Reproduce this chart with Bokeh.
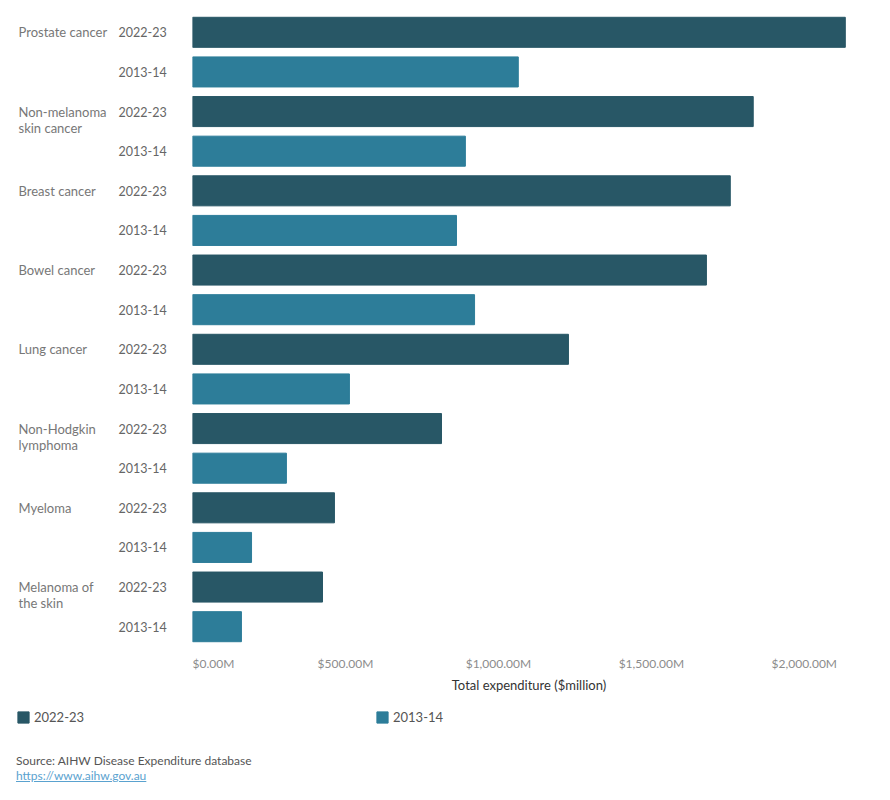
from bokeh.plotting import figure
from bokeh.models import Range1d, FactorRange, FixedTicker, Legend, LegendItem, Div, ColumnDataSource
from bokeh.layouts import column, row
from bokeh.embed import file_html
from bokeh.resources import INLINE
from bokeh.core.properties import value

# ---------------- data ----------------
categories = ["Prostate cancer", "Non-melanoma skin cancer", "Breast cancer", "Bowel cancer",
              "Lung cancer", "Non-Hodgkin lymphoma", "Myeloma", "Melanoma of the skin"]
category_labels = ["Prostate cancer", "Non-melanoma\nskin cancer", "Breast cancer", "Bowel cancer",
                   "Lung cancer", "Non-Hodgkin\nlymphoma", "Myeloma", "Melanoma of\nthe skin"]
periods = ["2022-23", "2013-14"]
exp_2022_23 = [2134, 1833, 1758, 1680, 1229, 814, 464, 425]
exp_2013_14 = [1065, 892, 863, 922, 513, 307, 193, 160]
tick_values = [0, 500, 1000, 1500, 2000]
tick_labels = ["$0.00M", "$500.00M", "$1,000.00M", "$1,500.00M", "$2,000.00M"]

# ---------------- styles ----------------
FONT = "Lato"
DARK = "#285766"
TEAL = "#2d7d99"
period_colors = {"2022-23": DARK, "2013-14": TEAL}

factors, vals, cols, per_labels = [], [], [], []
for c, v1, v2 in zip(categories, exp_2022_23, exp_2013_14):
    for per, v in zip(periods, (v1, v2)):
        factors.append(c + " | " + per)
        vals.append(v)
        cols.append(period_colors[per])
        per_labels.append(per)

src = ColumnDataSource(dict(y=factors, value=vals, color=cols, period=per_labels))
yr = FactorRange(factors=list(reversed(factors)))

FRAME_H = 634
TOP = 12
BOTTOM = 54

# ---------------- bars ----------------
p = figure(frame_width=673, frame_height=FRAME_H, x_range=Range1d(0, 2200), y_range=yr,
           y_axis_location=None, output_backend="svg", toolbar_location=None,
           min_border_left=0, min_border_right=25, min_border_top=TOP, min_border_bottom=BOTTOM)
p.hbar(y="y", left=0, right="value", height=0.758, color="color", source=src)
p.xaxis.ticker = FixedTicker(ticks=tick_values)
p.xaxis.major_label_overrides = dict(zip(tick_values, tick_labels))
p.xaxis.axis_line_color = None
p.xaxis.major_tick_line_color = None
p.xaxis.minor_tick_line_color = None
p.xaxis.major_tick_out = 0
p.xaxis.major_tick_in = 0
p.xaxis.minor_tick_out = 0
p.xaxis.minor_tick_in = 0
p.xaxis.major_label_text_font = FONT
p.xaxis.major_label_text_font_size = "12px"
p.xaxis.major_label_text_color = "#8c8c8c"
p.xaxis.major_label_standoff = 9
p.xaxis.axis_label = "Total expenditure ($million)"
p.xaxis.axis_label_text_font = FONT
p.xaxis.axis_label_text_font_size = "13px"
p.xaxis.axis_label_text_font_style = "normal"
p.xaxis.axis_label_text_color = "#333333"
p.xaxis.axis_label_standoff = 3
p.xgrid.visible = False
p.ygrid.visible = False
p.outline_line_color = None

# ---------------- row labels ----------------
lp = figure(frame_width=192, frame_height=FRAME_H, x_range=Range1d(0, 192), y_range=yr,
            x_axis_location=None, y_axis_location=None, output_backend="svg", toolbar_location=None,
            min_border_left=0, min_border_right=0, min_border_top=TOP, min_border_bottom=BOTTOM)
lp.xgrid.visible = False
lp.ygrid.visible = False
lp.outline_line_color = None
lp.text(x=118, y="y", text="period", source=src, text_font=value(FONT), text_font_size="12.5px",
        text_color="#666666", text_align="left", text_baseline="middle")
lp.text(x=18, y=[c + " | " + periods[0] for c in categories], text=category_labels,
        text_font=value(FONT), text_font_size="13px", text_color="#777777",
        text_align="left", text_baseline="top", y_offset=-8, text_line_height=1.0)

# ---------------- legend ----------------
lg = figure(width=890, height=45, x_range=Range1d(0, 890), y_range=Range1d(0, 45),
            x_axis_location=None, y_axis_location=None, output_backend="svg", toolbar_location=None,
            min_border=0)
lg.xgrid.visible = False
lg.ygrid.visible = False
lg.outline_line_color = None
r1 = lg.hbar(y=[-100], left=[-100], right=[-99], height=1, color=DARK)
r2 = lg.hbar(y=[-100], left=[-100], right=[-99], height=1, color=TEAL)
legend = Legend(items=[LegendItem(label=periods[0], renderers=[r1]),
                       LegendItem(label=periods[1], renderers=[r2])],
                orientation="horizontal", location=(16, 20), padding=0, margin=0, spacing=0,
                border_line_color=None, background_fill_alpha=0,
                glyph_width=14, glyph_height=14, label_height=14, label_width=341,
                label_standoff=4, label_text_font=FONT, label_text_font_size="13px",
                label_text_color="#555555")
lg.add_layout(legend)

src_div = Div(text='Source: AIHW Disease Expenditure database<br>'
                   '<a href="https://www.aihw.gov.au" style="color:#5aa2cf;text-decoration:underline;">'
                   'https://www.aihw.gov.au</a>',
              width=400, margin=(8, 0, 0, 16),
              styles={"font-family": FONT, "font-size": "12px", "line-height": "15px", "color": "#555555"})

layout = column(row(lp, p), lg, src_div)
open("out.html", "w").write(file_html(layout, INLINE))
